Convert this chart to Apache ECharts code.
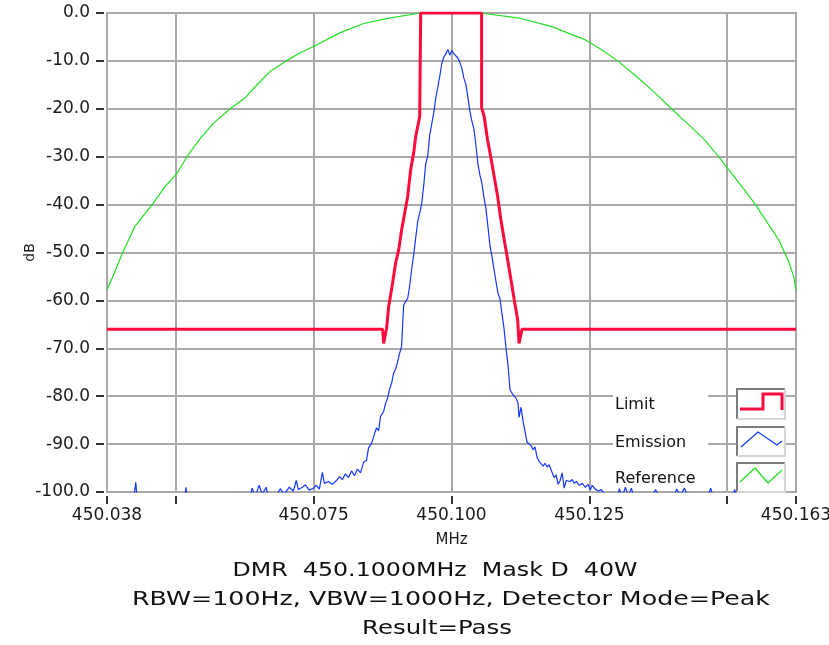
<!DOCTYPE html>
<html>
<head>
<meta charset="utf-8">
<script src="https://cdn.jsdelivr.net/npm/echarts@6/dist/echarts.min.js"></script>
<style>
  html, body { margin: 0; padding: 0; background: #ffffff; }
  #chart { width: 829px; height: 645px; }
</style>
</head>
<body>
<div id="chart"></div>
<script>
// Spectrum emission mask plot. Frequencies are kept as offsets (kHz) from the carrier.
const carrierKHz = 450100;

// Frequency axis ticks and labels (kHz offsets)
const xTickOffsets = [-62.5, -50, -25, 0, 25, 50, 62.5];
const xLabelOffsets = [-62.5, -25, 0, 25, 62.5];

const seriesNames = ['Limit', 'Emission', 'Reference'];

// Mask D limit line
const limitOffset = [-62.5, -12.5, -12.32, -11.96, -11.77, -11.41, -10.69, -10.14, -9.59, -9.05,
  -8.50, -7.95, -7.41, -6.86, -6.50, -6.13, -5.77, -5.59, -5.59, 5.46, 5.46, 5.93, 6.55, 7.15,
  7.75, 8.37, 8.97, 9.57, 10.19, 10.79, 11.39, 12.01, 12.25, 12.61, 12.80, 62.5];
const limitDb = [-66, -66, -69, -69, -65.8, -61.4, -56.4, -52.2, -49.5, -45.3,
  -41.8, -38.3, -32.7, -29.2, -25.8, -23.7, -21.6, -21.6, 0, 0, -19.8, -21.6, -26.5, -30.2,
  -34.2, -38.3, -43.2, -47.4, -51.5, -55.7, -59.9, -64.1, -69, -69, -66, -66];

// Measured emission trace (values under -100 dB fall below the plot floor)
const emissionOffset = [-62.5, -57.83, -57.28, -56.92, -48.54, -48.18, -47.82, -36.90, -36.17, -35.62,
  -34.89, -34.35, -33.62, -33.07, -31.80, -31.07, -30.34, -29.43, -28.70, -28.16,
  -27.79, -27.07, -26.52, -25.79, -25.06, -24.52, -23.97, -23.43, -23.06, -22.33,
  -21.61, -20.88, -20.33, -19.79, -19.24, -18.69, -18.15, -17.60, -17.06, -16.51,
  -15.96, -15.42, -15.05, -14.51, -13.96, -13.60, -13.23, -12.87, -12.32, -11.96,
  -11.59, -11.23, -10.87, -10.50, -10.14, -9.77, -9.41, -9.05, -8.86, -8.68,
  -8.32, -7.95, -7.59, -7.23, -6.86, -6.50, -6.13, -5.77, -5.41, -5.04,
  -4.68, -4.31, -3.95, -3.59, -3.22, -2.86, -2.49, -2.13, -1.77, -1.40,
  -1.04, -0.67, -0.31, 0.05, 0.42, 0.78, 1.15, 1.51, 1.87, 2.24,
  2.60, 2.97, 3.33, 3.69, 4.06, 4.42, 4.79, 5.15, 5.52, 5.88,
  6.24, 6.61, 6.97, 7.34, 7.70, 8.06, 8.43, 8.79, 9.16, 9.52,
  9.88, 10.25, 10.61, 10.98, 11.34, 11.70, 12.07, 12.25, 12.61, 12.98,
  13.34, 13.71, 14.07, 14.43, 14.80, 15.16, 15.53, 15.89, 16.25, 16.62,
  16.98, 17.35, 17.71, 18.07, 18.62, 18.98, 19.35, 19.71, 20.08, 20.44,
  20.81, 21.17, 21.53, 21.90, 22.26, 22.63, 23.17, 23.72, 24.26, 24.81,
  25.17, 25.54, 26.08, 26.63, 27.18, 27.72, 28.27, 29.91, 30.45, 31.00,
  31.54, 32.09, 32.64, 33.18, 36.28, 37.00, 37.73, 40.28, 40.83, 41.55,
  42.28, 43.01, 46.29, 47.02, 47.56, 50.84, 51.38, 51.93, 62.5];
const emissionDb = [-103, -103, -98, -103, -103, -99, -103, -103, -99.2, -101,
  -98.6, -100.5, -99, -102, -101, -99.3, -100.5, -99, -99.8, -97.6,
  -99.5, -99, -98.5, -99.6, -99.2, -98.6, -99.4, -95.9, -98.2, -97.8,
  -98.4, -97.6, -96.8, -97.4, -96.2, -97, -95.6, -96.6, -95.2, -96,
  -93.8, -93.4, -90.8, -89.9, -87.8, -86.6, -87.2, -84.2, -83.2, -81.5,
  -80.4, -78.5, -77.3, -75.2, -74.3, -72.8, -71, -69.6, -65, -61,
  -60.2, -59.6, -57, -53.5, -50.5, -47, -43.5, -41.8, -39.8, -36,
  -31.5, -29.8, -25.5, -23.2, -20.8, -17.8, -15.5, -13.2, -10.6, -9.2,
  -8.6, -7.6, -8.8, -7.8, -8.5, -8.9, -9.4, -10.3, -11.5, -13.6,
  -14.8, -17.5, -20.5, -22.5, -24.2, -27.5, -31.5, -33.8, -35.6, -38.5,
  -40.8, -44.6, -48.5, -50.8, -53.4, -56, -58.5, -59.6, -62.8, -65.8,
  -69.8, -73.5, -78.6, -79.4, -79.8, -80.4, -81.4, -84.4, -82.3, -85.2,
  -87.4, -89.6, -89.8, -90.3, -91.2, -90.6, -92.8, -93.6, -93.2, -94.6,
  -94, -94.8, -94.3, -95.4, -97, -96.4, -98.4, -97.6, -96, -99.2,
  -97.6, -97.2, -97.8, -97.4, -98.2, -97.8, -98.6, -98.2, -99, -98.4,
  -99.6, -98.6, -99.4, -99.8, -99.5, -100.4, -102, -102, -99.3, -101,
  -99, -100.8, -99.2, -101.5, -101.5, -99.5, -101, -101, -99.4, -100.6,
  -99.2, -101.5, -101.5, -99.2, -101.5, -101.5, -99.5, -102, -103];

// Reference (channel filter) curve
const referenceOffset = [-62.5, -61.47, -59.65, -57.46, -54.19, -52.00, -49.82, -48.00, -45.63, -43.27,
  -40.17, -37.44, -35.62, -32.89, -30.16, -27.43, -25.06, -20.15, -15.96, -11.05,
  -6.13, 0, 5.88, 12.07, 18.07, 24.08, 27.18, 30.27, 33.18, 36.28,
  39.92, 43.01, 45.92, 48.47, 50.29, 52.66, 55.02, 57.21, 59.39, 61.21, 62.12, 62.5];
const referenceDb = [-57.8, -55.1, -50.0, -44.6, -39.8, -36.3, -33.5, -30.0, -26.3, -23.1,
  -20.0, -17.7, -15.4, -12.2, -10.1, -8.3, -7.0, -4.1, -2.2, -1.0,
  -0.1, 0, -0.1, -1.0, -2.8, -5.5, -7.6, -10.1, -12.9, -16.0,
  -20.0, -23.3, -26.5, -30.0, -32.7, -36.2, -39.8, -43.6, -47.4, -52.0, -55.2, -57.8];

const captionLines = [
  'DMR  450.1000MHz  Mask D  40W',
  'RBW=100Hz, VBW=1000Hz, Detector Mode=Peak',
  'Result=Pass'
];

const colors = { limit: '#ff0a3c', emission: '#1438ff', reference: '#22e022' };
const FONT = '"DejaVu Sans", Verdana, sans-serif';

const toPairs = (xs, ys) => xs.map((x, i) => [x, ys[i]]);
const fmtMHz = v => (Math.round(carrierKHz + v) / 1000).toFixed(3);

// Caption lines are stretched horizontally to their slot width
const measureCtx = document.createElement('canvas').getContext('2d');
const captionFont = '19px ' + FONT;
measureCtx.font = captionFont;
const captionSlots = [
  { cx: 435, cy: 571, width: 405 },
  { cx: 451, cy: 600, width: 638 },
  { cx: 437, cy: 629, width: 150 }
];
const captionGraphics = captionLines.map((text, i) => {
  const slot = captionSlots[i];
  const w = measureCtx.measureText(text).width;
  return {
    type: 'text', x: slot.cx, y: slot.cy, scaleX: slot.width / w, z: 100,
    style: { text, font: captionFont, fill: '#111', align: 'center', verticalAlign: 'middle' }
  };
});

// Legend block: label column on a white backing plus bevelled swatch boxes
const legendRows = [
  { y0: 389, y1: 419, icon: [[740, 409], [763, 409], [763, 394], [782, 394], [782, 410]], color: colors.limit, width: 3 },
  { y0: 427, y1: 456, icon: [[741, 447], [758, 432], [777, 445], [782, 441]], color: colors.emission, width: 1.3 },
  { y0: 463, y1: 492, icon: [[740, 482], [755, 468], [768, 483], [782, 470]], color: colors.reference, width: 1.3 }
];
const legendGraphics = [{
  type: 'rect', shape: { x: 613, y: 388, width: 95, height: 99 }, style: { fill: '#ffffff' }, z: 90
}];
legendRows.forEach((row, i) => {
  const x0 = 737, x1 = 785;
  legendGraphics.push(
    { type: 'text', x: 615, y: (row.y0 + row.y1) / 2 + 1, z: 100,
      style: { text: seriesNames[i], font: '16px ' + FONT, fill: '#111', align: 'left', verticalAlign: 'middle' } },
    { type: 'rect', shape: { x: x0, y: row.y0, width: x1 - x0, height: row.y1 - row.y0 }, style: { fill: '#ffffff' }, z: 90 },
    { type: 'polyline', shape: { points: [[x0, row.y1], [x0, row.y0], [x1, row.y0]] }, style: { stroke: '#7c7c7c', lineWidth: 2, fill: null }, z: 95 },
    { type: 'polyline', shape: { points: [[x1, row.y0], [x1, row.y1], [x0, row.y1]] }, style: { stroke: '#d6d6d6', lineWidth: 2, fill: null }, z: 95 },
    { type: 'polyline', shape: { points: row.icon }, style: { stroke: row.color, lineWidth: row.width, fill: null }, z: 100 }
  );
});

const chart = echarts.init(document.getElementById('chart'), null, { renderer: 'canvas' });

const lineSeries = (name, xs, ys, color, width, z) => ({
  name, type: 'line', data: toPairs(xs, ys), symbol: 'none', showSymbol: false,
  clip: true, silent: true, z,
  lineStyle: { color, width }, emphasis: { disabled: true }
});

chart.setOption({
  backgroundColor: '#ffffff',
  animation: false,
  grid: {
    left: 107, right: 33, top: 13, bottom: 153,
    show: true, borderColor: '#9a9a9a', borderWidth: 2,
    containLabel: false, outerBoundsMode: 'none'
  },
  xAxis: {
    type: 'value', position: 'bottom', min: -62.5, max: 62.5, interval: 12.5, offset: 4,
    name: 'MHz', nameLocation: 'middle', nameGap: 37, nameMoveOverlap: false,
    nameTextStyle: { fontFamily: FONT, fontSize: 15, color: '#1a1a1a' },
    axisLine: { show: false, onZero: false },
    axisTick: { show: true, inside: false, length: 8, customValues: xTickOffsets, lineStyle: { color: '#333', width: 2 } },
    axisLabel: { customValues: xLabelOffsets, formatter: fmtMHz, fontFamily: FONT, fontSize: 17, color: '#1a1a1a', margin: 11 },
    splitLine: { show: true, lineStyle: { color: '#a9a9a9', width: 2 } }
  },
  yAxis: {
    type: 'value', position: 'left', min: -100, max: 0, interval: 10, offset: 3,
    name: 'dB', nameLocation: 'middle', nameRotate: 90, nameGap: 67, nameMoveOverlap: false,
    nameTextStyle: { fontFamily: FONT, fontSize: 14, color: '#1a1a1a' },
    axisLine: { show: false, onZero: false },
    axisTick: { show: true, inside: false, length: 8, lineStyle: { color: '#333', width: 2 } },
    axisLabel: { formatter: v => v.toFixed(1), fontFamily: FONT, fontSize: 17, color: '#1a1a1a', margin: 14 },
    splitLine: { show: true, lineStyle: { color: '#a9a9a9', width: 2 } }
  },
  series: [
    lineSeries(seriesNames[2], referenceOffset, referenceDb, colors.reference, 1.2, 2),
    lineSeries(seriesNames[1], emissionOffset, emissionDb, colors.emission, 1.2, 3),
    lineSeries(seriesNames[0], limitOffset, limitDb, colors.limit, 3, 4)
  ],
  graphic: { elements: legendGraphics.concat(captionGraphics) }
});
</script>
</body>
</html>
